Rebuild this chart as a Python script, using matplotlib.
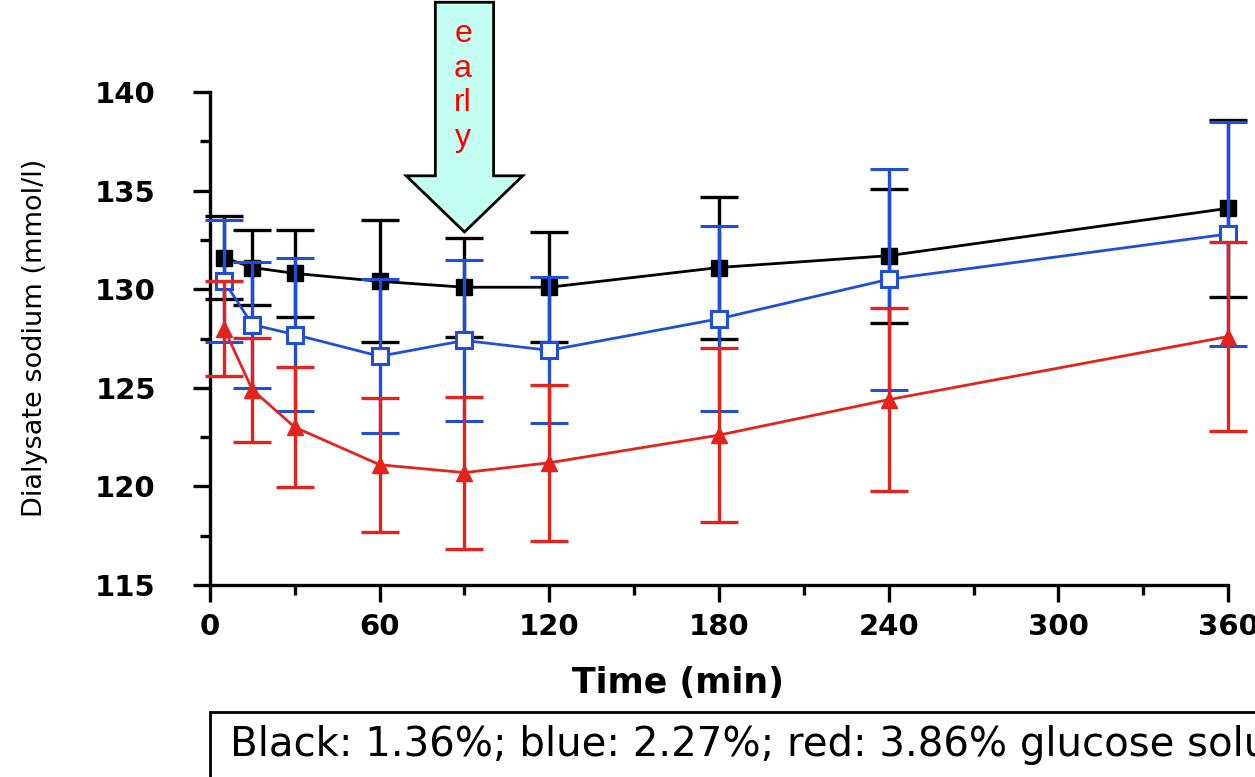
import numpy as np
import matplotlib.pyplot as plt
from matplotlib.patches import Polygon, Rectangle
from matplotlib.ticker import MultipleLocator

# sampling times (min)
time_min = [5, 15, 30, 60, 90, 120, 180, 240, 360]

# dialysate sodium (mmol/l), mean and SD per glucose solution
black_mean = [131.6, 131.1, 130.8, 130.4, 130.1, 130.1, 131.1, 131.7, 134.1]
black_sd = [2.1, 1.9, 2.2, 3.1, 2.5, 2.8, 3.6, 3.4, 4.5]

blue_mean = [130.4, 128.2, 127.7, 126.6, 127.4, 126.9, 128.5, 130.5, 132.8]
blue_sd = [3.1, 3.2, 3.9, 3.9, 4.1, 3.7, 4.7, 5.6, 5.7]

red_mean = [128.0, 124.9, 123.0, 121.1, 120.7, 121.2, 122.6, 124.4, 127.6]
red_sd = [2.4, 2.65, 3.05, 3.4, 3.85, 3.95, 4.4, 4.65, 4.8]

x_ticks = [0, 60, 120, 180, 240, 300, 360]
y_ticks = [115, 120, 125, 130, 135, 140]

BLUE = '#1f4fd6'
RED = '#e3241c'

fig = plt.figure(figsize=(12.55, 7.77), dpi=100)
ax = fig.add_axes([0.1673, 0.2471, 0.8112, 0.6345])

common = dict(capsize=14, capthick=2.4, elinewidth=2.4, linewidth=2.0,
              markersize=11, clip_on=False)

ax.errorbar(time_min, black_mean, yerr=black_sd, color='black', ecolor='black',
            marker='s', markerfacecolor='black', markeredgecolor='black',
            zorder=3, **common)
ax.errorbar(time_min, blue_mean, yerr=blue_sd, color=BLUE, ecolor=BLUE,
            marker='s', markerfacecolor='white', markeredgecolor=BLUE,
            markeredgewidth=2.2, zorder=4, **common)
ax.errorbar(time_min, red_mean, yerr=red_sd, color=RED, ecolor=RED,
            marker='^', markerfacecolor=RED, markeredgecolor=RED,
            zorder=5, **common)

ax.set_xlim(0, 360)
ax.set_ylim(115, 140)
ax.set_xticks(x_ticks)
ax.set_yticks(y_ticks)
ax.xaxis.set_minor_locator(MultipleLocator(30))
ax.yaxis.set_minor_locator(MultipleLocator(2.5))

for side in ['top', 'right']:
    ax.spines[side].set_visible(False)
for side in ['left', 'bottom']:
    ax.spines[side].set_linewidth(2.4)

ax.tick_params(which='major', direction='out', length=12, width=2.4,
               labelsize=21)
ax.tick_params(axis='x', which='major', pad=8)
ax.tick_params(axis='y', which='major', pad=27)
ax.tick_params(which='minor', direction='out', length=7, width=2.4)
for lab in ax.get_xticklabels() + ax.get_yticklabels():
    lab.set_fontweight('bold')

fig.text(35 / 1255, 1 - 338 / 777, 'Dialysate sodium (mmol/l)', rotation=90,
         fontsize=19.5, ha='center', va='center')
fig.text(678 / 1255, 1 - 683 / 777, 'Time (min)', fontsize=25,
         fontweight='bold', ha='center', va='center')

# "early" block arrow pointing at the 90 min sample
tip_t, tip_v = 90, 132.9
head_half, shaft_half = 20.6, 10.3
head_base, shaft_top = 135.75, 144.55
arrow = Polygon([(tip_t - shaft_half, shaft_top), (tip_t + shaft_half, shaft_top),
                 (tip_t + shaft_half, head_base), (tip_t + head_half, head_base),
                 (tip_t, tip_v), (tip_t - head_half, head_base),
                 (tip_t - shaft_half, head_base)],
                closed=True, facecolor='#c2fff0', edgecolor='black',
                linewidth=2.0, clip_on=False, zorder=6)
ax.add_patch(arrow)
ax.text(tip_t - 0.5, 140.3, 'e\na\nrl\ny', color='red', fontsize=23,
        ha='center', va='center', linespacing=1.2, zorder=7,
        family='Liberation Sans')

# caption box along the bottom edge, running off the right side
fig.add_artist(Rectangle((210 / 1255, -0.05), 1.0, 1 - 712 / 777 + 0.05,
                         transform=fig.transFigure, facecolor='white',
                         edgecolor='black', linewidth=2.0))
fig.text(230 / 1255, 1 - 745 / 777,
         'Black: 1.36%; blue: 2.27%; red: 3.86% glucose solution',
         fontsize=29, ha='left', va='center')

fig.savefig('out.png', dpi=100)
